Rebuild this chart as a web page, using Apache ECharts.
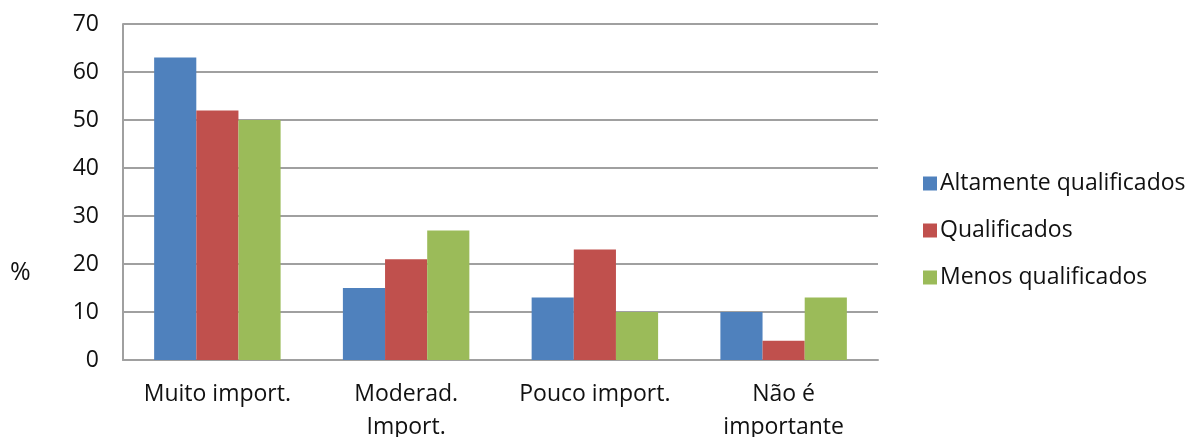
<!DOCTYPE html>
<html><head><meta charset="utf-8">
<script src="https://cdn.jsdelivr.net/npm/echarts@6/dist/echarts.min.js"></script>
<style>html,body{margin:0;padding:0;background:#fff}#c{width:1196px;height:437px}</style>
</head><body><div id="c"></div>
<script>
const categories = ['Muito import.', 'Moderad.\nImport.', 'Pouco import.', 'Não é\nimportante'];
const seriesNames = ['Altamente qualificados', 'Qualificados', 'Menos qualificados'];
const altamente = [63, 15, 13, 10];
const qualificados = [52, 21, 23, 4];
const menos = [50, 27, 10, 13];
const yTicks = [0, 10, 20, 30, 40, 50, 60, 70];
const colors = ['#4F81BD', '#C0504D', '#9BBB59'];
const font = '"Open Sans", "Liberation Sans", sans-serif';
const chart = echarts.init(document.getElementById('c'), null, {renderer: 'canvas'});
const values = [altamente, qualificados, menos];
chart.setOption({
  animation: false,
  color: colors,
  textStyle: {fontFamily: font},
  grid: {left: 123, right: 318, top: 24, bottom: 77, containLabel: false, outerBoundsMode: 'none'},
  legend: {
    orient: 'vertical', left: 918, top: 167, itemGap: 24,
    itemWidth: 14, itemHeight: 14, icon: 'rect', itemStyle: {borderWidth: 0},
    textStyle: {fontSize: 23, color: '#111', fontFamily: font, padding: [0, 0, 0, -2]},
    data: seriesNames
  },
  graphic: [{type: 'text', left: 10, top: 260, style: {text: '%', fontSize: 25, fill: '#111', fontFamily: font}}],
  xAxis: {
    type: 'category', data: categories,
    axisLine: {show: true, lineStyle: {color: '#a0a0a0', width: 2}},
    axisTick: {show: false},
    axisLabel: {fontSize: 23, color: '#111', margin: 18, lineHeight: 33, interval: 0, fontFamily: font}
  },
  yAxis: {
    type: 'value', min: yTicks[0], max: yTicks[yTicks.length - 1], interval: 10,
    axisLine: {show: true, lineStyle: {color: '#a0a0a0', width: 2}},
    axisTick: {show: false},
    axisLabel: {fontSize: 23, color: '#111', margin: 24, fontFamily: font},
    splitLine: {show: true, lineStyle: {color: '#a0a0a0', width: 2}}
  },
  series: seriesNames.map((n, i) => ({
    name: n, type: 'bar', data: values[i],
    barGap: '0%', barCategoryGap: '33%',
    itemStyle: {color: colors[i]}
  }))
});
</script></body></html>
